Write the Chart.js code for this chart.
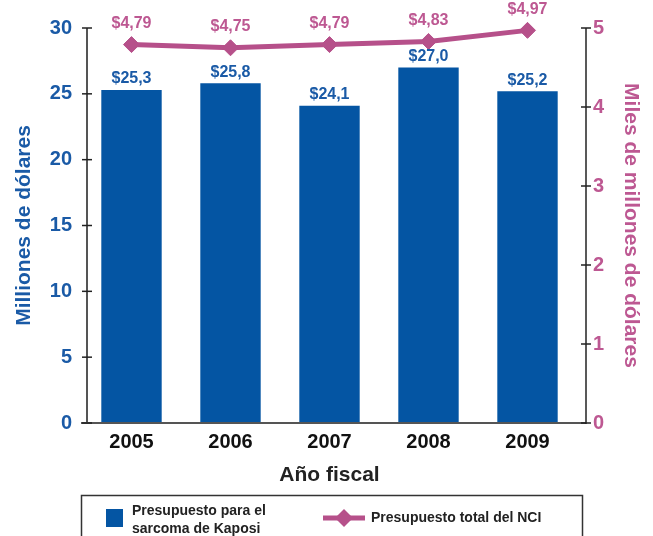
<!DOCTYPE html>
<html>
<head>
<meta charset="utf-8">
<script src="https://cdn.jsdelivr.net/npm/chart.js@4"></script>
<style>
  html, body { margin: 0; padding: 0; background: #fff; }
  #wrap { width: 653px; height: 536px; }
</style>
</head>
<body>
<div id="wrap"><canvas id="chart" width="653" height="536"></canvas></div>
<script>
// fiscal years
const years = ["2005", "2006", "2007", "2008", "2009"];
// Kaposi sarcoma budget, millions of dollars
const kaposi = [25.3, 25.8, 24.1, 27.0, 25.2];
// total NCI budget, billions of dollars
const nciTotal = [4.79, 4.75, 4.79, 4.83, 4.97];
const kaposiLabel = ["Presupuesto para el", "sarcoma de Kaposi"];
const nciLabel = "Presupuesto total del NCI";

const blue = "#0455a3";
const blueText = "#1a5aa6";
const pink = "#b6508a";
const pinkText = "#bd5892";

Chart.defaults.font.family = '"Liberation Sans", Arial, sans-serif';
Chart.defaults.font.weight = "bold";

//comma decimals like the original
const fmt = (v, d) => "$" + v.toFixed(d).replace(".", ",");

//draw a diamond marker
function diamond(ctx, x, y, r) {
  ctx.beginPath();
  ctx.moveTo(x, y - r);
  ctx.lineTo(x + r, y);
  ctx.lineTo(x, y + r);
  ctx.lineTo(x - r, y);
  ctx.closePath();
  ctx.fill();
}

function line(ctx, x1, y1, x2, y2) {
  ctx.beginPath();
  ctx.moveTo(x1, y1);
  ctx.lineTo(x2, y2);
  ctx.stroke();
}

//the bars sit a bit left of centre between the two axis lines,
//so the axis lines are drawn a few px outside the plot area
const leftGap = 5;
const rightGap = 9;

//value labels, axis lines with cross ticks and the boxed legend
const extras = {
  id: "extras",
  afterDraw(chart) {
    const ctx = chart.ctx;
    const area = chart.chartArea;
    ctx.save();
    ctx.textAlign = "center";
    ctx.textBaseline = "middle";

    ctx.font = 'bold 16px "Liberation Sans", Arial, sans-serif';
    ctx.fillStyle = blueText;
    chart.getDatasetMeta(0).data.forEach((bar, i) => {
      ctx.fillText(fmt(kaposi[i], 1), bar.x, bar.y - 11);
    });
    ctx.fillStyle = pinkText;
    chart.getDatasetMeta(1).data.forEach((pt, i) => {
      ctx.fillText(fmt(nciTotal[i], 2), pt.x, pt.y - 21);
    });

    const xl = area.left + leftGap;
    const xr = area.right + rightGap;
    // axis lines
    ctx.strokeStyle = "#555";
    ctx.lineWidth = 2;
    line(ctx, xl, area.top, xl, area.bottom);
    line(ctx, xl - 6, area.bottom, xr, area.bottom);
    ctx.strokeStyle = "#222";
    ctx.lineWidth = 1.5;
    line(ctx, xr, area.top, xr, area.bottom + 1);

    // ticks that cross the axis line
    [["y", xl], ["y1", xr]].forEach(([id, x]) => {
      const s = chart.scales[id];
      ctx.strokeStyle = "#222";
      ctx.lineWidth = 1.5;
      s.ticks.forEach((t, i) => {
        const y = s.getPixelForTick(i);
        line(ctx, x - 5, y, x + 5, y);
      });
    });

    // legend
    ctx.strokeStyle = "#333";
    ctx.lineWidth = 1.5;
    ctx.strokeRect(81.5, 495.5, 501, 60);
    ctx.fillStyle = blue;
    ctx.fillRect(106, 509, 17, 18);
    ctx.textAlign = "left";
    ctx.fillStyle = "#222";
    ctx.font = 'bold 14px "Liberation Sans", Arial, sans-serif';
    ctx.fillText(kaposiLabel[0], 132, 511);
    ctx.fillText(kaposiLabel[1], 132, 529);
    ctx.strokeStyle = pink;
    ctx.lineWidth = 5;
    line(ctx, 323, 518, 365, 518);
    ctx.fillStyle = pink;
    diamond(ctx, 344, 518, 9);
    ctx.fillStyle = "#222";
    ctx.fillText(nciLabel, 371, 518);
    ctx.restore();
  },
};

new Chart(document.getElementById("chart"), {
  plugins: [extras],
  data: {
    labels: years,
    datasets: [
      {
        type: "bar",
        data: kaposi,
        backgroundColor: blue,
        barPercentage: 0.61,
        categoryPercentage: 1,
        yAxisID: "y",
        order: 1,
      },
      {
        type: "line",
        data: nciTotal,
        borderColor: pink,
        borderWidth: 5,
        backgroundColor: pink,
        pointStyle: "rectRot",
        pointRadius: 8,
        pointBorderWidth: 1,
        pointBackgroundColor: pink,
        yAxisID: "y1",
        clip: false,
        order: 0,
      },
    ],
  },
  options: {
    responsive: false,
    animation: false,
    layout: { padding: { top: 26, bottom: 48, left: 0, right: 0 } },
    plugins: { legend: { display: false }, tooltip: { enabled: false } },
    scales: {
      x: {
        grid: { display: false, drawTicks: false },
        border: { display: false },
        ticks: { color: "#111", font: { size: 20, weight: "bold" }, padding: 7 },
        title: {
          display: true,
          text: "Año fiscal",
          color: "#222",
          font: { size: 21, weight: "bold" },
          padding: { top: 9, bottom: 0 },
        },
        afterFit(s) { s.height = 65; },
      },
      y: {
        position: "left",
        min: 0,
        max: 30,
        ticks: { stepSize: 5, color: blueText, font: { size: 20, weight: "bold" }, padding: 10 },
        grid: { display: false, drawTicks: false },
        border: { display: false },
        title: {
          display: true,
          text: "Milliones de dólares",
          color: blueText,
          font: { size: 21, weight: "bold" },
          padding: { top: 12, bottom: 0 },
        },
        afterFit(s) { s.width = 82; },
      },
      y1: {
        position: "right",
        min: 0,
        max: 5,
        ticks: { stepSize: 1, color: pinkText, font: { size: 20, weight: "bold" }, padding: 16 },
        grid: { display: false, drawTicks: false },
        border: { display: false },
        title: {
          display: true,
          text: "Miles de millones de dólares",
          color: pinkText,
          font: { size: 21, weight: "bold" },
          padding: { top: 10, bottom: 0 },
        },
        afterFit(s) { s.width = 76; },
      },
    },
  },
});
</script>
</body>
</html>
